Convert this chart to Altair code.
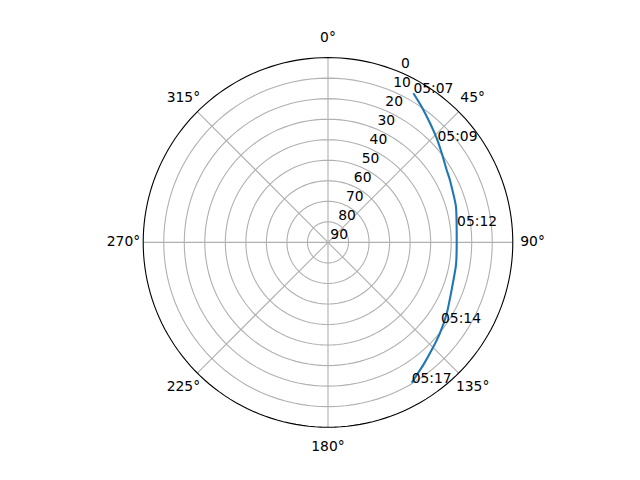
import altair as alt
import pandas as pd

# ---- data ----
track_az = [29.8, 34.6, 40.6, 46.2, 51.9, 58.6, 62.9, 74.4, 88.9, 100.0, 111.0, 120.9, 129.1, 136.1, 142.1, 146.2, 149.2]
track_el = [6.3, 9.7, 13.6, 16.7, 19.6, 22.3, 23.3, 25.3, 27.3, 26.7, 25.5, 22.6, 19.8, 17.2, 14.4, 12.3, 10.4]

time_labels = ["05:07", "05:09", "05:12", "05:14", "05:17"]
label_az = [29.8, 47.2, 82.6, 125.4, 149.2]
label_el = [6.3, 17.3, 26.6, 22.5, 10.4]

ring_el = [10, 20, 30, 40, 50, 60, 70, 80]
spoke_az = [0, 45, 90, 135, 180, 225, 270, 315]
theta_tick_labels = ["0°", "45°", "90°", "135°", "180°", "225°", "270°", "315°"]
r_tick_values = [0, 10, 20, 30, 40, 50, 60, 70, 80, 90]
r_label_angle = 22.5

FONT = "DejaVu Sans"
FS = 13.9
GRID = "#b0b0b0"
LINE = "#1f77b4"

xs = alt.Scale(domain=[-1, 1], nice=False, zero=False)
ys = alt.Scale(domain=[-1, 1], nice=False, zero=False)


def polar(ch, az="az", el="el", factor=None):
    if factor is None:
        rexpr = f"(90 - datum.{el}) / 90"
    else:
        rexpr = str(factor)
    return ch.transform_calculate(
        rr=rexpr
    ).transform_calculate(
        px=f"datum.rr * sin(datum.{az} * PI / 180)",
        py=f"datum.rr * cos(datum.{az} * PI / 180)",
    )


# rings (grid circles) and outer spine
ring_rows = []
for e in ring_el:
    for a in range(0, 361, 3):
        ring_rows.append({"ring": e, "az": a, "el": e})
ring_df = pd.DataFrame(ring_rows)
outer_df = pd.DataFrame([{"ring": 0, "az": a, "el": 0} for a in range(0, 361, 2)])

rings = polar(alt.Chart(ring_df)).mark_line(color=GRID, strokeWidth=1.1).encode(
    x=alt.X("px:Q", scale=xs, axis=None),
    y=alt.Y("py:Q", scale=ys, axis=None),
    detail="ring:N",
    order="az:Q",
)

spokes_df = pd.DataFrame({"az": spoke_az})
spokes = alt.Chart(spokes_df).transform_calculate(
    px="sin(datum.az * PI / 180)",
    py="cos(datum.az * PI / 180)",
    cx="0",
    cy="0",
).mark_rule(color=GRID, strokeWidth=1.1).encode(
    x=alt.X("cx:Q", scale=xs, axis=None),
    y=alt.Y("cy:Q", scale=ys, axis=None),
    x2="px:Q",
    y2="py:Q",
)

outer = polar(alt.Chart(outer_df)).mark_line(color="black", strokeWidth=1.1).encode(
    x=alt.X("px:Q", scale=xs, axis=None),
    y=alt.Y("py:Q", scale=ys, axis=None),
    order="az:Q",
)

theta_df = pd.DataFrame({"az": spoke_az, "label": theta_tick_labels})
theta_text = polar(alt.Chart(theta_df), factor=1.107).mark_text(
    font=FONT, fontSize=FS, align="center", baseline="middle", color="black"
).encode(
    x=alt.X("px:Q", scale=xs, axis=None),
    y=alt.Y("py:Q", scale=ys, axis=None),
    text="label:N",
)

rlab_df = pd.DataFrame({"el": r_tick_values, "az": [r_label_angle] * len(r_tick_values),
                        "label": [str(v) for v in r_tick_values]})
r_text = polar(alt.Chart(rlab_df)).mark_text(
    font=FONT, fontSize=FS, align="left", baseline="alphabetic", dx=2.3, dy=-3.4, color="black"
).encode(
    x=alt.X("px:Q", scale=xs, axis=None),
    y=alt.Y("py:Q", scale=ys, axis=None),
    text="label:N",
)

track_df = pd.DataFrame({"az": track_az, "el": track_el, "i": list(range(len(track_az)))})
track = polar(alt.Chart(track_df)).mark_line(
    color=LINE, strokeWidth=2.1, interpolate="cardinal", tension=0.7
).encode(
    x=alt.X("px:Q", scale=xs, axis=None),
    y=alt.Y("py:Q", scale=ys, axis=None),
    order="i:Q",
)

tl_df = pd.DataFrame({"az": label_az, "el": label_el, "label": time_labels})
time_text = polar(alt.Chart(tl_df)).mark_text(
    font=FONT, fontSize=FS, align="left", baseline="alphabetic", color="black"
).encode(
    x=alt.X("px:Q", scale=xs, axis=None),
    y=alt.Y("py:Q", scale=ys, axis=None),
    text="label:N",
)

chart = alt.layer(
    rings, spokes, outer, track, theta_text, r_text, time_text
).properties(
    width=369.6,
    height=369.6,
    autosize="none",
    padding={"left": 135.2, "top": 49.6, "right": 110, "bottom": 40},
).configure_view(stroke=None)

chart.save("out.html", embed_options={"renderer": "svg", "actions": False})
